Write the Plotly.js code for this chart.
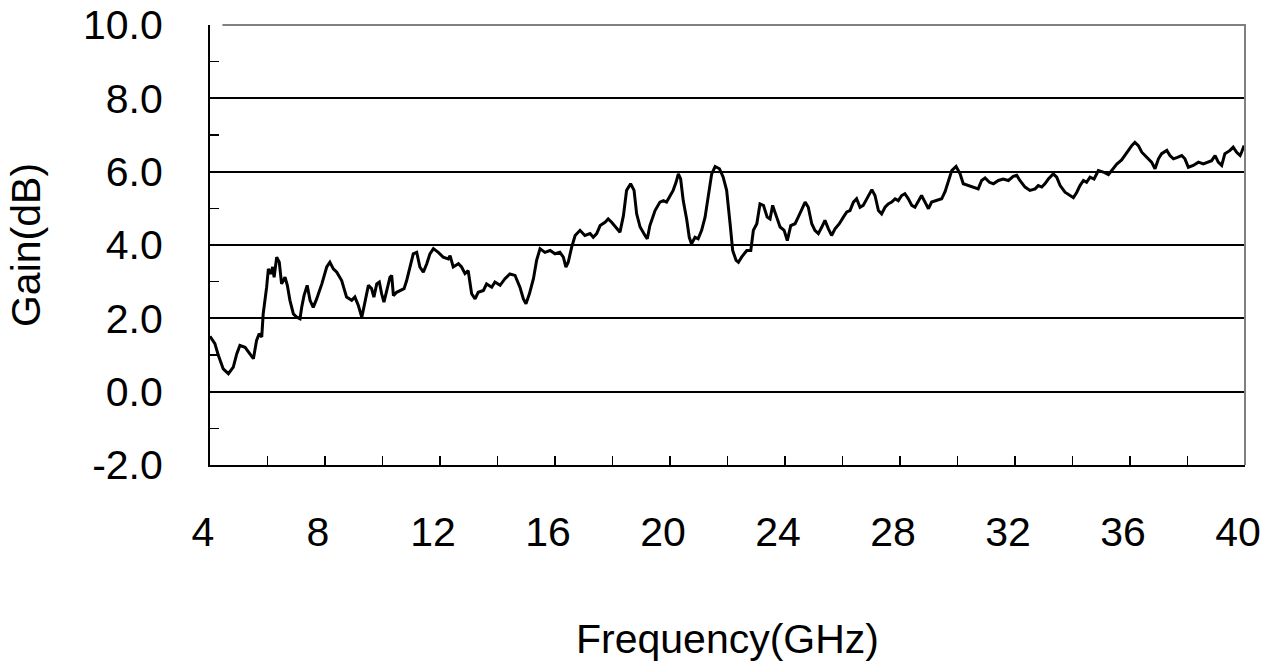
<!DOCTYPE html>
<html>
<head>
<meta charset="utf-8">
<script src="https://cdn.plot.ly/plotly-3.0.1.min.js"></script>
<style>html,body{margin:0;padding:0;background:#fff;}#chart{width:1272px;height:664px;}</style>
</head>
<body>
<div id="chart"></div>
<script>
var freqGHz = [
4.00,4.17,4.29,4.46,4.64,4.81,4.93,5.04,5.22,5.39,5.51,5.62,5.71,5.80,5.85,5.97,6.03,6.11,6.18,6.23,
6.32,6.41,6.49,6.61,6.69,6.78,6.90,7.02,7.13,7.19,7.27,7.38,7.48,7.59,7.71,7.89,8.06,8.17,8.29,8.41,
8.58,8.75,8.93,9.04,9.16,9.28,9.39,9.51,9.62,9.70,9.80,9.89,9.97,10.05,10.15,10.26,10.32,10.38,10.49,10.61,
10.75,10.84,10.96,11.07,11.19,11.30,11.42,11.54,11.65,11.77,11.94,12.11,12.29,12.35,12.46,12.64,
12.75,12.87,12.98,13.10,13.22,13.33,13.51,13.62,13.80,13.91,14.09,14.26,14.43,14.61,14.78,14.90,14.99,15.11,
15.25,15.36,15.48,15.65,15.83,16.00,16.17,16.29,16.38,16.46,16.58,16.70,16.87,17.04,17.22,17.33,17.45,17.57,
17.74,17.85,17.97,18.15,18.26,18.38,18.49,18.63,18.75,18.84,18.96,19.13,19.21,19.30,19.48,19.65,19.77,19.88,
20.00,20.11,20.21,20.29,20.37,20.46,20.58,20.67,20.75,20.87,20.98,21.10,21.22,21.33,21.45,21.57,21.72,21.85,
21.97,22.09,22.18,22.30,22.38,22.49,22.67,22.81,22.90,23.02,23.13,23.25,23.38,23.48,23.57,23.71,23.83,23.97,
24.08,24.20,24.35,24.46,24.58,24.70,24.81,24.93,25.04,25.16,25.28,25.39,25.51,25.62,25.74,25.89,26.03,26.15,
26.26,26.38,26.49,26.61,26.72,26.86,27.02,27.13,27.25,27.36,27.48,27.59,27.71,27.83,27.94,28.06,28.17,28.29,
28.41,28.52,28.64,28.75,28.87,28.99,29.10,29.28,29.45,29.57,29.68,29.80,29.95,30.09,30.20,30.38,30.55,30.72,
30.84,30.96,31.11,31.25,31.42,31.59,31.77,31.94,32.06,32.17,32.35,32.52,32.70,32.81,32.93,33.04,33.16,33.33,
33.45,33.57,33.74,33.91,34.03,34.15,34.26,34.38,34.49,34.61,34.75,34.90,35.07,35.25,35.36,35.54,35.71,35.89,
36.06,36.17,36.29,36.41,36.58,36.75,36.87,36.99,37.10,37.28,37.39,37.51,37.65,37.80,37.91,38.03,38.20,38.38,
38.55,38.72,38.84,38.96,39.07,39.19,39.30,39.48,39.59,39.71,39.83,39.88,39.97
];
var gainDB = [
1.51,1.31,0.99,0.62,0.49,0.67,1.03,1.26,1.21,1.03,0.90,1.40,1.58,1.49,2.12,2.85,3.35,3.21,3.40,3.12,
3.67,3.53,2.94,3.12,2.90,2.49,2.12,2.03,1.99,2.30,2.62,2.90,2.49,2.30,2.53,2.94,3.40,3.53,3.35,3.26,
3.03,2.58,2.49,2.58,2.35,2.03,2.44,2.90,2.81,2.58,2.94,2.99,2.67,2.44,2.76,3.12,3.17,2.62,2.71,2.76,
2.81,3.03,3.40,3.76,3.80,3.40,3.26,3.49,3.76,3.90,3.80,3.67,3.62,3.71,3.40,3.49,
3.40,3.22,3.30,2.67,2.53,2.71,2.76,2.94,2.85,2.99,2.90,3.08,3.21,3.17,2.85,2.53,2.40,2.67,
3.08,3.58,3.90,3.80,3.85,3.76,3.80,3.67,3.40,3.53,3.94,4.26,4.40,4.26,4.31,4.21,4.31,4.53,
4.62,4.71,4.62,4.44,4.35,4.80,5.49,5.67,5.49,4.85,4.49,4.26,4.17,4.53,4.94,5.17,5.21,5.17,
5.35,5.49,5.71,5.94,5.80,5.21,4.70,4.21,4.03,4.21,4.17,4.40,4.76,5.30,5.94,6.14,6.08,5.85,
5.49,4.58,3.85,3.58,3.53,3.67,3.85,3.85,4.40,4.58,5.12,5.08,4.76,4.71,5.08,4.76,4.49,4.40,
4.12,4.53,4.58,4.76,4.99,5.17,5.03,4.58,4.40,4.31,4.49,4.67,4.44,4.26,4.44,4.58,4.76,4.90,
4.94,5.17,5.26,5.03,5.08,5.30,5.51,5.35,4.94,4.85,5.03,5.12,5.17,5.26,5.21,5.35,5.40,5.26,
5.08,5.03,5.21,5.35,5.17,4.99,5.17,5.21,5.26,5.46,5.76,6.03,6.14,5.94,5.67,5.62,5.58,5.53,
5.76,5.83,5.71,5.67,5.76,5.80,5.76,5.87,5.90,5.76,5.58,5.49,5.53,5.62,5.58,5.67,5.80,5.94,
5.85,5.62,5.44,5.35,5.29,5.44,5.62,5.76,5.71,5.85,5.80,6.03,5.99,5.92,6.03,6.21,6.32,6.53,
6.71,6.80,6.71,6.53,6.39,6.26,6.08,6.35,6.49,6.58,6.44,6.35,6.39,6.44,6.35,6.12,6.17,6.26,
6.21,6.26,6.30,6.44,6.26,6.17,6.49,6.58,6.67,6.53,6.44,6.53,6.71
];
var xTickVals = [4,8,12,16,20,24,28,32,36,40];
var xTickText = ["4","8","12","16","20","24","28","32","36","40"];
var yTickVals = [-2,0,2,4,6,8,10];
var yTickText = ["-2.0","0.0","2.0","4.0","6.0","8.0","10.0"];
var xTitle = "Frequency(GHz)";
var yTitle = "Gain(dB)";

var fontFam = "Liberation Sans, Arial, sans-serif";
var fs = 41;
var trace = {
  x: freqGHz, y: gainDB, type: 'scatter', mode: 'lines',
  line: {color: '#000', width: 3, shape: 'linear'},
  hoverinfo: 'skip', showlegend: false
};
var layout = {
  width: 1272, height: 664,
  margin: {l: 210, r: 27, t: 25, b: 199, pad: 0},
  paper_bgcolor: '#fff', plot_bgcolor: '#fff',
  showlegend: false,
  font: {family: fontFam, color: '#000', size: fs},
  xaxis: {
    range: [4, 40], autorange: false,
    tickmode: 'array', tickvals: xTickVals, ticktext: xTickText,
    ticks: 'inside', ticklen: 9, tickwidth: 1.5, tickcolor: '#000',
    minor: {tickmode: 'linear', tick0: 4, dtick: 2, ticks: 'inside', ticklen: 9, tickwidth: 1.5, tickcolor: '#000', showgrid: false},
    showline: true, linecolor: '#000', linewidth: 2,
    showgrid: false, zeroline: false,
    tickfont: {family: fontFam, size: fs, color: '#000'},
    ticklabelstandoff: 30,
    ticklabelshift: -7,
    title: {text: xTitle, font: {family: fontFam, size: fs, color: '#000'}, standoff: 70}
  },
  yaxis: {
    range: [-2, 10], autorange: false,
    tickmode: 'array', tickvals: yTickVals, ticktext: yTickText,
    ticks: 'inside', ticklen: 9, tickwidth: 1.5, tickcolor: '#000',
    minor: {tickmode: 'linear', tick0: -1, dtick: 2, ticks: 'inside', ticklen: 9, tickwidth: 1.5, tickcolor: '#000', showgrid: false},
    showline: true, linecolor: '#000', linewidth: 2,
    showgrid: true, gridcolor: '#000', gridwidth: 2, zeroline: false,
    tickfont: {family: fontFam, size: fs, color: '#000'},
    ticklabelstandoff: 37,
    title: {text: yTitle, font: {family: fontFam, size: fs, color: '#000'}, standoff: 30}
  },
  shapes: [{
    type: 'path', xref: 'paper', yref: 'paper', layer: 'above',
    path: 'M 0.012 1 L 1 1 L 1 0',
    line: {color: '#808080', width: 2}
  }]
};
Plotly.newPlot('chart', [trace], layout, {staticPlot: true, displayModeBar: false});
</script>
</body>
</html>
